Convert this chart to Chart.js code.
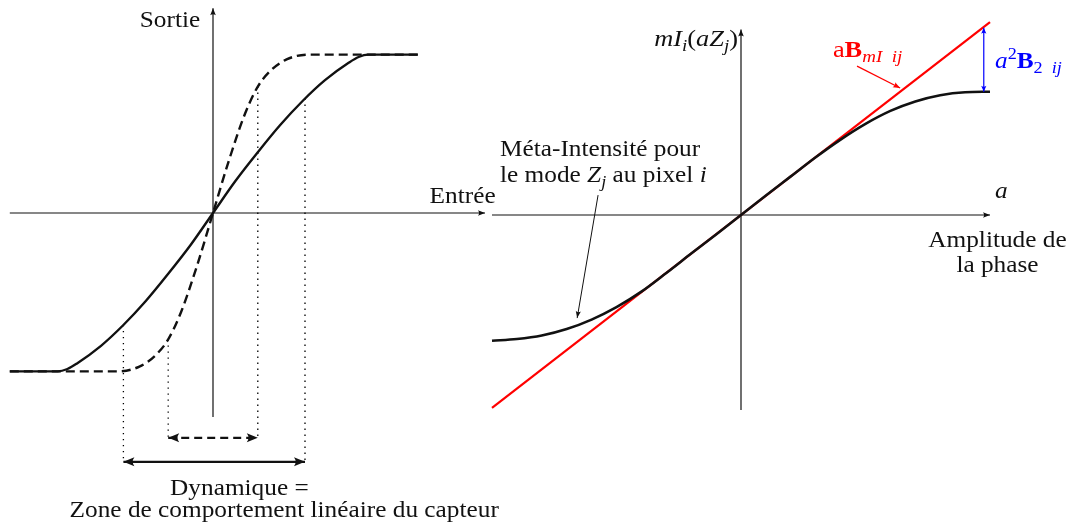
<!DOCTYPE html>
<html>
<head>
<meta charset="utf-8">
<script src="https://cdn.jsdelivr.net/npm/chart.js@4.4.1/dist/chart.umd.min.js"></script>
<style>
  html, body { margin: 0; padding: 0; background: #fff; }
  #cadre { width: 1071px; height: 527px; }
</style>
</head>
<body>
<div id="cadre"><canvas id="capteurChart"></canvas></div>
<script>
// Réponse du capteur (panneau de gauche), sortie saturée à +/-1
const entreeDouce = [-1.27, -0.97, -0.91, -0.85, -0.70, -0.56, -0.42, -0.28, -0.14, 0,
                     0.14, 0.28, 0.42, 0.56, 0.70, 0.85, 0.91, 0.97, 1.28];
const sortieDouce = [-0.99, -0.99, -0.975, -0.94, -0.83, -0.70, -0.55, -0.38, -0.20, 0,
                     0.20, 0.38, 0.55, 0.70, 0.83, 0.94, 0.975, 0.99, 0.99];
const entreeRaide = [-1.27, -0.60, -0.46, -0.36, -0.28, -0.20, -0.10, 0, 0.10, 0.20, 0.28, 0.36, 0.46, 0.60, 1.28];
const sortieRaide = [-0.99, -0.99, -0.96, -0.89, -0.79, -0.62, -0.33, 0, 0.33, 0.62, 0.79, 0.89, 0.96, 0.99, 0.99];

// bornes de la zone linéaire (entrée / sortie) et hauteur des flèches de dynamique
const bornesRaide = [-0.28, 0.28];
const sortieBornesRaide = [-0.79, 0.79];
const bornesDouce = [-0.56, 0.575];
const sortieBornesDouce = [-0.70, 0.715];
const niveauxFleches = [-1.405, -1.555];

// Méta-intensité en fonction de l'amplitude de phase (panneau de droite)
const amplitude = [-1.0, -0.9, -0.8, -0.7, -0.6, -0.5, -0.4, -0.3, -0.2, -0.1, 0,
                   0.1, 0.2, 0.3, 0.4, 0.5, 0.6, 0.7, 0.8, 0.9, 1.0];
const metaIntensite = [-0.505, -0.498, -0.484, -0.458, -0.420, -0.370, -0.308, -0.233, -0.155, -0.078, 0,
                       0.078, 0.155, 0.232, 0.303, 0.366, 0.418, 0.456, 0.481, 0.493, 0.495];
const amplitudeLin = [-1.0, 1.0];
const approxLin = [-0.775, 0.775];
const ecartA = 0.975;        // abscisse de la flèche a²B2
const ecartBornes = [0.495, 0.752];

// flèches d'annotation [x0, y0, x1, y1]
const flecheRouge = [0.466, 0.598, 0.639, 0.510];
const flecheMeta = [-0.574, 0.08, -0.658, -0.414];

const NOIR = '#111';
const POLICE = '"Liberation Serif", "Times New Roman", serif';
const TAILLE = 23;
const ETIRE = 1.1;

const pts = (xs, ys) => xs.map((x, i) => ({ x: x, y: ys[i] }));
const seg = (x0, y0, x1, y1) => [{ x: x0, y: y0 }, { x: x1, y: y1 }];

function trait(data, opts) {
  return Object.assign({
    data: data, showLine: true, pointRadius: 0, borderColor: NOIR,
    borderWidth: 1.2, fill: false, tension: 0
  }, opts);
}
const G = { xAxisID: 'xL', yAxisID: 'yL' };
const D = { xAxisID: 'xR', yAxisID: 'yR' };
const pointille = { order: 8, borderWidth: 1.3, borderColor: '#000', borderDash: [1.3, 4.7] };

const datasets = [
  // panneau gauche
  trait(seg(-1.27, 0, 1.70, 0), Object.assign({ order: 9, fleche: 'fin', pointe: [7, 2.8] }, G)),
  trait(seg(0, -1.275, 0, 1.28), Object.assign({ order: 9, fleche: 'fin', pointe: [7, 2.8] }, G)),
  trait(pts(entreeDouce, sortieDouce), Object.assign({ order: 2, borderWidth: 2.4, cubicInterpolationMode: 'monotone' }, G)),
  trait(pts(entreeRaide, sortieRaide), Object.assign({ order: 3, borderWidth: 2.4, borderDash: [9, 5], cubicInterpolationMode: 'monotone' }, G)),
  trait(seg(bornesDouce[0], sortieBornesDouce[0], bornesDouce[0], niveauxFleches[1]), Object.assign({}, pointille, G)),
  trait(seg(bornesDouce[1], sortieBornesDouce[1], bornesDouce[1], niveauxFleches[1]), Object.assign({}, pointille, G)),
  trait(seg(bornesRaide[0], sortieBornesRaide[0], bornesRaide[0], niveauxFleches[0]), Object.assign({}, pointille, G)),
  trait(seg(bornesRaide[1], sortieBornesRaide[1], bornesRaide[1], niveauxFleches[0]), Object.assign({}, pointille, G)),
  trait(seg(bornesRaide[0], niveauxFleches[0], bornesRaide[1], niveauxFleches[0]), Object.assign({ order: 4, borderWidth: 2.2, borderDash: [8, 5], fleche: 'deux', pointe: [11, 4.5] }, G)),
  trait(seg(bornesDouce[0], niveauxFleches[1], bornesDouce[1], niveauxFleches[1]), Object.assign({ order: 4, borderWidth: 2.2, fleche: 'deux', pointe: [11, 4.5] }, G)),
  // panneau droit
  trait(seg(-1.0, 0, 1.0, 0), Object.assign({ order: 9, fleche: 'fin', pointe: [7, 2.8] }, D)),
  trait(seg(0, -0.783, 0, 0.745), Object.assign({ order: 9, fleche: 'fin', pointe: [7, 2.8] }, D)),
  trait(pts(amplitudeLin, approxLin), Object.assign({ order: 3, borderWidth: 2.2, borderColor: '#ff0000' }, D)),
  trait(pts(amplitude, metaIntensite), Object.assign({ order: 2, borderWidth: 2.6, cubicInterpolationMode: 'monotone' }, D)),
  trait(seg(ecartA, ecartBornes[0], ecartA, ecartBornes[1]), Object.assign({ order: 1, borderWidth: 1.2, borderColor: '#0000ff', fleche: 'deux', pointe: [6, 2.6] }, D)),
  trait(seg(...flecheRouge), Object.assign({ order: 1, borderWidth: 1.2, borderColor: '#ff0000', fleche: 'fin', pointe: [7, 2.8] }, D)),
  trait(seg(...flecheMeta), Object.assign({ order: 1, borderWidth: 1.0, fleche: 'fin', pointe: [7, 2.6] }, D))
];

// textes : [texte, style] ; style = i (italique), b (gras), sub, sup
const etiquettes = [
  { p: 'L', x: -0.08, y: 1.163, align: 'right', runs: [['Sortie', '']] },
  { p: 'L', x: 1.56, y: 0.064, align: 'center', runs: [['Entrée', '']] },
  { p: 'L', x: 0.165, y: -1.76, align: 'center', runs: [['Dynamique =', '']] },
  { p: 'L', x: 0.445, y: -1.90, align: 'center', runs: [['Zone de comportement linéaire du capteur', '']] },
  { p: 'R', x: -0.012, y: 0.68, align: 'right', taille: 24,
    runs: [['m', 'i'], ['I', 'i'], ['i', 'i sub'], ['(', ''], ['a', 'i'], ['Z', 'i'], ['j', 'i sub'], [')', '']] },
  { p: 'R', x: 0.369, y: 0.635, align: 'left', couleur: '#ff0000', taille: 24,
    runs: [['a', ''], ['B', 'b'], ['mI  ij', 'i sub']] },
  { p: 'R', x: 1.02, y: 0.59, align: 'left', couleur: '#0000ff',
    runs: [['a', 'i'], ['2', 'sup'], ['B', 'b'], ['2', 'sub'], ['  ij', 'i sub']] },
  { p: 'R', x: 1.02, y: 0.068, align: 'left', runs: [['a', 'i']] },
  { p: 'R', x: 1.03, y: -0.129, align: 'center', runs: [['Amplitude de', '']] },
  { p: 'R', x: 1.03, y: -0.229, align: 'center', runs: [['la phase', '']] },
  { p: 'R', x: -0.968, y: 0.236, align: 'left', runs: [['Méta-Intensité pour', '']] },
  { p: 'R', x: -0.968, y: 0.1325, align: 'left',
    runs: [['le mode ', ''], ['Z', 'i'], ['j', 'i sub'], [' au pixel ', ''], ['i', 'i']] }
];

function policeRun(style, taille) {
  const f = style.split(' ');
  const petit = f.includes('sub') || f.includes('sup');
  const t = petit ? taille * 0.72 : taille;
  return (f.includes('i') ? 'italic ' : '') + (f.includes('b') ? 'bold ' : '') + t + 'px ' + POLICE;
}

function dessinerRuns(ctx, runs, x, y, align, couleur, taille) {
  let largeur = 0;
  const mes = runs.map(([txt, st]) => {
    ctx.font = policeRun(st, taille);
    const w = ctx.measureText(txt).width;
    largeur += w;
    return w;
  });
  let x0 = align === 'right' ? -largeur : align === 'center' ? -largeur / 2 : 0;
  ctx.save();
  ctx.translate(x, y);
  ctx.scale(ETIRE, 1);
  ctx.fillStyle = couleur || NOIR;
  ctx.textBaseline = 'alphabetic';
  ctx.textAlign = 'left';
  runs.forEach(([txt, st], i) => {
    const f = st.split(' ');
    let dy = 0;
    if (f.includes('sub')) dy = taille * 0.22;
    if (f.includes('sup')) dy = -taille * 0.38;
    ctx.font = policeRun(st, taille);
    ctx.fillText(txt, x0, dy);
    x0 += mes[i];
  });
  ctx.restore();
}

function pointe(ctx, tx, ty, fx, fy, long, demi, couleur) {
  const ang = Math.atan2(ty - fy, tx - fx);
  ctx.save();
  ctx.translate(tx, ty);
  ctx.rotate(ang);
  ctx.fillStyle = couleur;
  ctx.beginPath();
  ctx.moveTo(0, 0);
  ctx.lineTo(-long, demi);
  ctx.quadraticCurveTo(-long * 0.7, 0, -long, -demi);
  ctx.closePath();
  ctx.fill();
  ctx.restore();
}

const annotations = {
  id: 'annotations',
  afterDatasetsDraw(chart) {
    const ctx = chart.ctx;
    chart.data.datasets.forEach((ds, i) => {
      if (!ds.fleche) return;
      const el = chart.getDatasetMeta(i).data;
      const a = el[0], b = el[el.length - 1];
      const [lg, dm] = ds.pointe;
      pointe(ctx, b.x, b.y, a.x, a.y, lg, dm, ds.borderColor);
      if (ds.fleche === 'deux') pointe(ctx, a.x, a.y, b.x, b.y, lg, dm, ds.borderColor);
    });
    etiquettes.forEach(e => {
      const sx = chart.scales[e.p === 'L' ? 'xL' : 'xR'];
      const sy = chart.scales[e.p === 'L' ? 'yL' : 'yR'];
      dessinerRuns(ctx, e.runs, sx.getPixelForValue(e.x), sy.getPixelForValue(e.y),
                   e.align, e.couleur, e.taille || TAILLE);
    });
  }
};

// origine gauche (213, 213) px, 160 px par unité ; origine droite (741, 215) px, 249 px par unité
const echelle = (axis, min, max) => ({ type: 'linear', axis: axis, min: min, max: max, display: false });

new Chart(document.getElementById('capteurChart').getContext('2d'), {
  type: 'scatter',
  data: { datasets: datasets },
  options: {
    responsive: true,
    maintainAspectRatio: false,
    animation: false,
    events: [],
    layout: { padding: 0 },
    scales: {
      xL: echelle('x', -213 / 160, 858 / 160),
      yL: echelle('y', -314 / 160, 213 / 160),
      xR: echelle('x', -741 / 249, 330 / 249),
      yR: echelle('y', -312 / 249, 215 / 249)
    },
    plugins: { legend: { display: false }, tooltip: { enabled: false } }
  },
  plugins: [annotations]
});
</script>
</body>
</html>
